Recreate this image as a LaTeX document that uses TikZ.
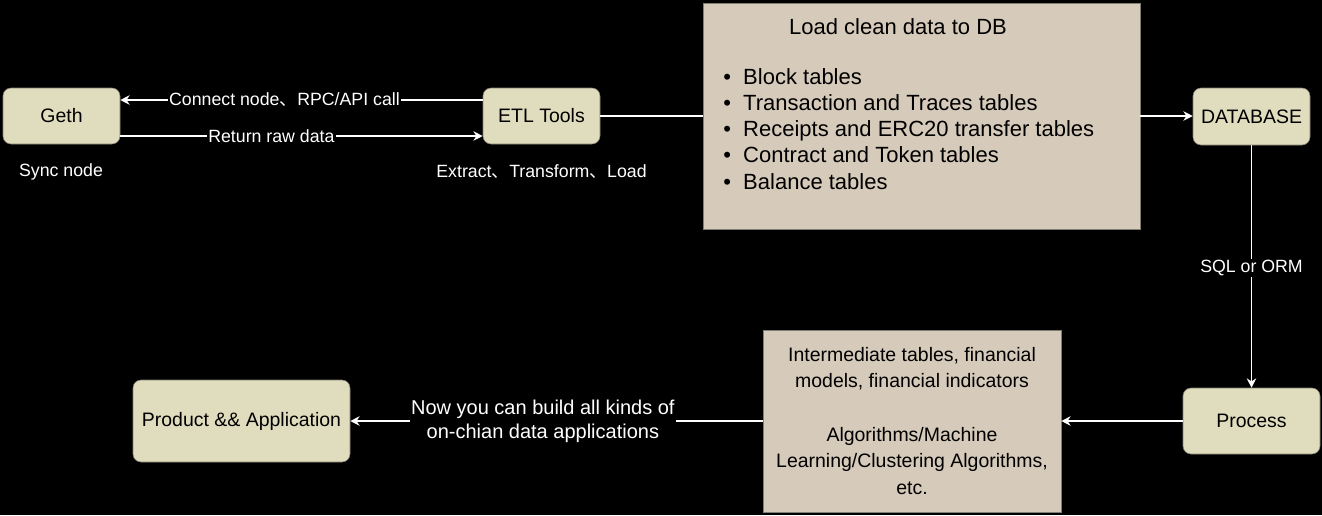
\documentclass[tikz,border=0pt]{standalone}
\usepackage{fontspec}
\setmainfont{Liberation Sans}
\newfontfamily\cjk{Noto Sans CJK SC}
\usepackage{xcolor}
\usetikzlibrary{arrows.meta}

\definecolor{khaki}{RGB}{224,221,190}
\definecolor{tanbg}{RGB}{214,202,186}
\definecolor{edgegrey}{RGB}{128,126,112}
\newcommand{\dun}{{\cjk 、}}

\tikzset{
  stepbox/.style={draw=edgegrey, fill=khaki, rounded corners=6pt, inner sep=0pt,
    font=\fontsize{14.6}{17}\selectfont},
  tablebox/.style={draw=edgegrey, fill=tanbg, inner sep=0pt},
  wire/.style={draw=white, line width=1.1pt},
  flow/.style={wire, -{Stealth[length=7pt,width=7pt]}},
  lbl/.style={text=white, fill=black, inner sep=1pt, font=\fontsize{13.3}{18}\selectfont},
  note/.style={text=white, font=\fontsize{13.3}{16}\selectfont}
}

\begin{document}
\begin{tikzpicture}[x=0.75pt,y=-0.75pt]
\fill[black] (0,0) rectangle (1322,515);
\useasboundingbox (0,0) rectangle (1322,515);

% boxes
\node[stepbox, minimum width=87.75pt, minimum height=42pt] (geth) at (61.5,116) {Geth};
\node[stepbox, minimum width=87.75pt, minimum height=42pt] (etl) at (541.5,116) {ETL Tools};
\node[tablebox, minimum width=327.75pt, minimum height=169.5pt] (load) at (921.5,116) {};
\node[stepbox, minimum width=87.75pt, minimum height=42.75pt] (db) at (1251.5,116.5) {DATABASE};
\node[stepbox, minimum width=102.75pt, minimum height=49.5pt] (process) at (1251.5,421) {Process};
\node[tablebox, minimum width=223.5pt, minimum height=136.5pt, align=center,
  font=\fontsize{14.6}{20}\selectfont] (model) at (912,421)
{Intermediate tables, financial\\models, financial indicators\\[20pt]Algorithms/Machine\\Learning/Clustering Algorithms,\\etc.};
\node[stepbox, minimum width=162.75pt, minimum height=61.5pt] (app) at (241.5,421) {Product \&\& Application};

% notes under the nodes
\node[note] (sync) at (61,172) {Sync node};
\node[note] (etlnote) at (541.5,172) {Extract\dun Transform\dun Load};

% content of the load box
\node[font=\fontsize{16.5}{20}\selectfont] (loadtitle) at (898,27) {Load clean data to DB};
\foreach \row [count=\i] in {Block tables, Transaction and Traces tables,
  Receipts and ERC20 transfer tables, Contract and Token tables, Balance tables}
  \node[anchor=base west, inner sep=0pt, font=\fontsize{16.5}{20}\selectfont] (item\i)
    at (723,{57.7+26.3*\i}) {\makebox[15pt][l]{\textbullet}\row};

% connectors
\draw[flow] ([yshift=12pt]etl.west) -- ([yshift=12pt]geth.east)
  node[lbl, pos=0.547] {Connect node\dun RPC/API call};
\draw[flow] ([yshift=-15pt]geth.east) -- ([yshift=-15pt]etl.west)
  node[lbl, pos=0.417] {Return raw data};
\draw[wire] (etl) -- (load);
\draw[flow] (load.east) -- (load.east -| db.west);
\draw[flow] (db) -- (process) node[lbl, pos=0.506] {SQL or ORM};
\draw[flow] (process) -- (model);
\draw[flow] (model) -- (app)
  node[lbl, pos=0.533, align=center, font=\fontsize{15}{18}\selectfont]
  {Now you can build all kinds of\\on-chian data applications};
\end{tikzpicture}
\end{document}
